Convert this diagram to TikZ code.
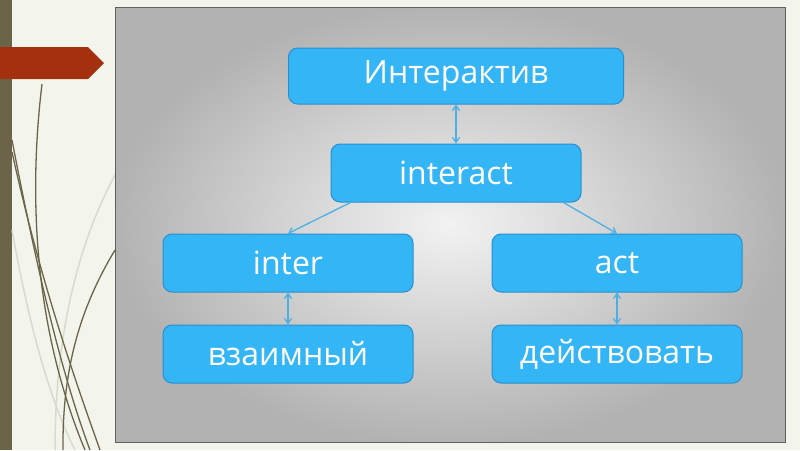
\documentclass[tikz,border=0pt]{standalone}
\usepackage{fontspec}
\setmainfont{Open Sans}
\usetikzlibrary{positioning,arrows.meta}
\definecolor{boxblue}{HTML}{33B5F6}
\definecolor{boxline}{HTML}{2C8FCB}
\definecolor{linkblue}{HTML}{4DAFE3}
\definecolor{barolive}{HTML}{6B6449}
\definecolor{bannerred}{HTML}{A3310F}
\definecolor{slidebg}{HTML}{F3F5EC}
\definecolor{faintline}{HTML}{D6DCCB}
\tikzset{
  term/.style={rectangle,rounded corners=9pt,draw=boxline,line width=1pt,fill=boxblue,text=white,minimum width=250pt,minimum height=58pt,inner sep=0pt,font=\fontsize{32}{36}\selectfont},
  link/.style={-{Straight Barb[length=5pt,width=7pt]},linkblue,line width=1.3pt},
  twoway/.style={{Straight Barb[length=5pt,width=7pt]}-{Straight Barb[length=5pt,width=7pt]},linkblue,line width=1.3pt},
  swirl/.style={barolive,line width=1.3pt}
}

\begin{document}
\begin{tikzpicture}[x=1pt,y=-1pt]
% slide background
\fill[slidebg] (0,0) rectangle (800,450);
\useasboundingbox (0,0) rectangle (800,450);
\fill[barolive] (0,0) rectangle (12,450);
% decorative curves
\draw[faintline,line width=1.5pt] (12,230) .. controls (30,330) and (50,400) .. (75,450);
\draw[faintline,line width=1.5pt] (115,175) .. controls (80,240) and (55,330) .. (55,450);
\draw[swirl] (42,84) .. controls (28,200) and (35,330) .. (85,450);
\draw[swirl] (12,140) .. controls (35,260) and (60,370) .. (90,450);
\draw[swirl] (12,152) .. controls (40,280) and (75,380) .. (100,450);
\draw[swirl] (63,450) .. controls (62,360) and (85,300) .. (115,250);
% banner
\fill[bannerred] (0,47) -- (88,47) -- (104,63) -- (88,79) -- (0,79) -- cycle;
% grey panel
\shade[inner color=gray!10,outer color=gray!60] (115,7) rectangle (785,442);
\draw[gray!75!black,line width=0.8pt] (115,7) rectangle (785,442);
% terms
\node[term,minimum width=335pt,minimum height=56pt] (word) at (456,76) {Интерактив};
\node[term,below=39pt of word] (interact) {interact};
\node[term] (inter) at (288,263) {inter};
\node[term,right=78pt of inter] (act) {act};
\node[term,below=32pt of inter] (mutual) {взаимный};
\node[term,below=32pt of act] (todo) {действовать};
% links
\draw[twoway] (word) -- (interact);
\draw[link] (interact.south west) ++(20pt,0) coordinate (il) -- (inter.north);
\draw[link] (interact.south east) ++(-18pt,0) coordinate (ir) -- (act.north);
\draw[twoway] (inter) -- (mutual);
\draw[twoway] (act) -- (todo);
\end{tikzpicture}
\end{document}
